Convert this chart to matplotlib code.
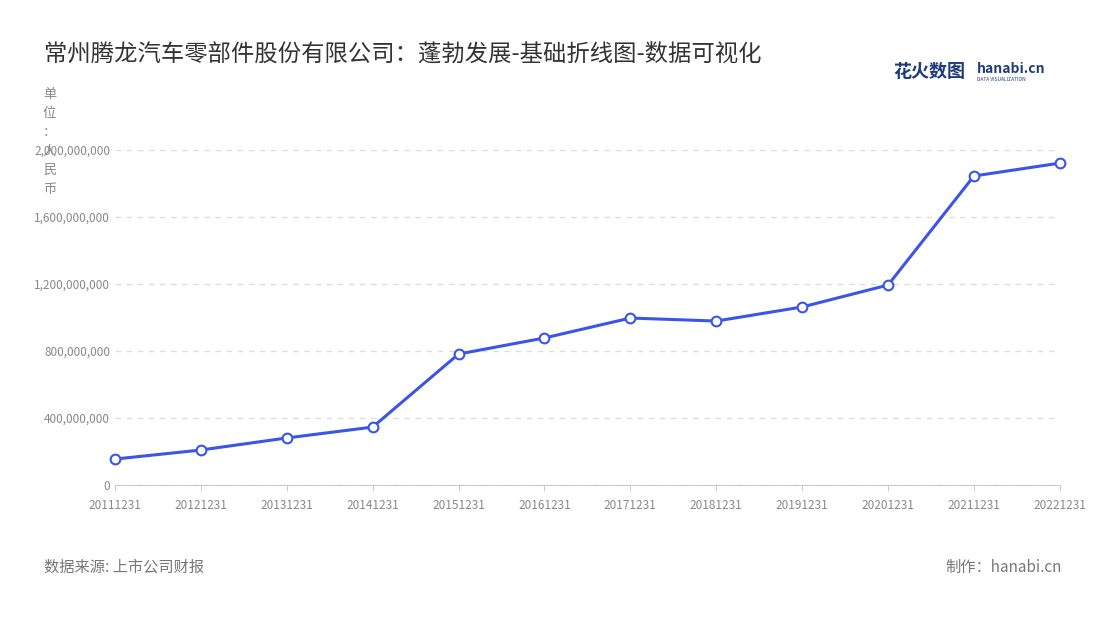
import matplotlib
matplotlib.use("Agg")
import matplotlib.pyplot as plt
from matplotlib.ticker import FuncFormatter

plt.rcParams['font.family'] = ['Noto Sans CJK SC', 'DejaVu Sans']

dates = ["20111231","20121231","20131231","20141231","20151231","20161231",
         "20171231","20181231","20191231","20201231","20211231","20221231"]
values = [155e6, 209e6, 281e6, 346e6, 782e6, 878e6, 997e6, 979e6, 1063e6, 1194e6, 1845e6, 1922e6]
yticks = [0, 400e6, 800e6, 1200e6, 1600e6, 2000e6]

fig = plt.figure(figsize=(11, 6.2), dpi=100)
ax = fig.add_axes([0.1045, 0.2177, 0.859, 0.5403])
x = list(range(len(dates)))
ax.plot(x, values, color='#3b55e6', lw=2.2, marker='o', ms=7,
        mfc='white', mec='#3b55e6', mew=1.5, zorder=3, clip_on=False)
ax.set_xlim(0, len(dates) - 1)
ax.set_ylim(0, 2000e6)
ax.set_yticks(yticks)
ax.yaxis.set_major_formatter(FuncFormatter(lambda v, p: f"{int(v):,}"))
ax.set_xticks(x)
ax.set_xticklabels(dates)
ax.tick_params(axis='both', labelsize=8.5, colors='#888888', length=0)
ax.tick_params(axis='x', length=4, color='#cccccc', pad=6)
ax.grid(axis='y', ls=(0, (4, 4)), color='#dddddd', lw=1)
for s in ['top', 'right', 'left']:
    ax.spines[s].set_visible(False)
ax.spines['bottom'].set_color('#cccccc')

fig.text(0.04, 0.912, "常州腾龙汽车零部件股份有限公司：蓬勃发展-基础折线图-数据可视化",
         fontsize=16.8, color='#333333', va='center')
fig.text(0.812, 0.884, "花火数图", fontsize=13, color='#1f3b7a', fontweight='bold', va='center')
fig.text(0.888, 0.889, "hanabi.cn", fontsize=10, color='#1f3b7a', fontweight='bold', va='center')
fig.text(0.888, 0.872, "DATA VISUALIZATION", fontsize=3.5, color='#1f3b7a', va='center')
fig.text(0.045, 0.858, "单\n位\n：\n人\n民\n币", fontsize=9.5, color='#888888',
         va='top', ha='center', linespacing=1.6)
fig.text(0.04, 0.085, "数据来源: 上市公司财报", fontsize=11, color='#777777', va='center')
fig.text(0.965, 0.085, "制作：hanabi.cn", fontsize=11, color='#777777', va='center', ha='right')

fig.savefig("out.png", dpi=100)
